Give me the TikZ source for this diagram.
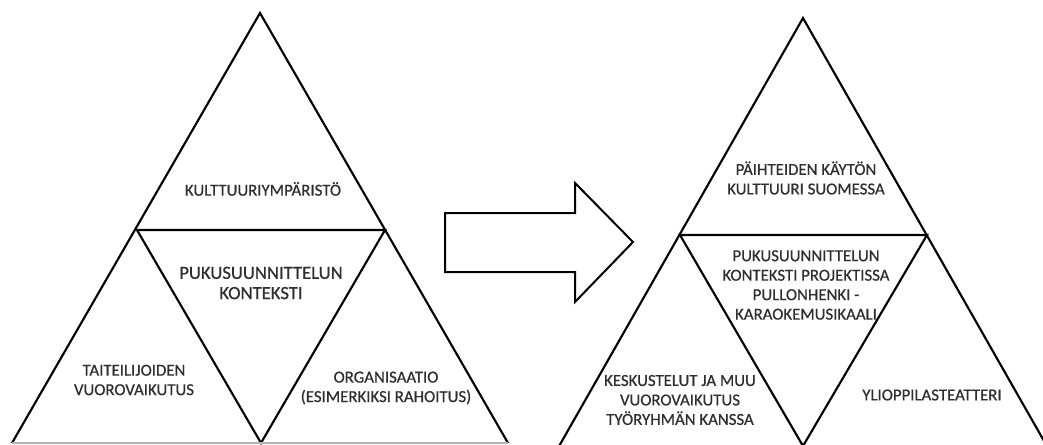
\documentclass[tikz,border=0pt]{standalone}
\usepackage{fontspec}
\setmainfont{Carlito}
\newfontfamily\lblfont{Carlito}[FakeBold=0.6]
\usetikzlibrary{positioning}
\definecolor{cink}{HTML}{2E2E2E}
\definecolor{cbase}{HTML}{B4B4B4}
\tikzset{
  every picture/.style={line width=1.6pt, line join=miter},
  lbl/.style={text=cink, align=center, inner sep=0pt, font=\lblfont\fontsize{12.6}{14.6}\selectfont},
  biglbl/.style={lbl, font=\lblfont\fontsize{14}{15.2}\selectfont},
  blockarrow/.style={draw=black, line width=1.5pt, fill=white},
}

\begin{document}
\begin{tikzpicture}[x=0.75pt, y=-0.75pt]
  \useasboundingbox (0,0) rectangle (1043,444);
  % left triangle
  \coordinate (ltop) at (260,13);
  \coordinate (lmidl) at (137,230);
  \coordinate (lmidr) at (385,230);
  \coordinate (lbotl) at (12,443);
  \coordinate (lbotm) at (261,443);
  \coordinate (lbotr) at (508,443);
  \draw (lbotl) -- (ltop) -- (lbotr);
  \draw (lmidl) -- (lmidr) -- (lbotm) -- cycle;
  \draw[cbase, line width=1pt] (lbotl) -- (lbotr);
  \node[lbl] (kulttuuri) at (263,189) {KULTTUURIYMPÄRISTÖ};
  \node[biglbl] (konteksti) at (261,283) {PUKUSUUNNITTELUN\\KONTEKSTI};
  \node[lbl] (taiteilijat) at (134,380) {TAITEILIJOIDEN\\VUOROVAIKUTUS};
  \node[lbl] (organisaatio) at (386,388) {ORGANISAATIO\\(ESIMERKIKSI RAHOITUS)};
  % arrow
  \draw[blockarrow] (445,213) -- (575,213) -- (575,183) -- (633,242)
    -- (575,302) -- (575,272) -- (445,272) -- cycle;
  % right triangle
  \coordinate (rtop) at (803,18);
  \coordinate (rmidl) at (680,235);
  \coordinate (rmidr) at (927,235);
  \coordinate (rbotl) at (558,448);
  \coordinate (rbotm) at (803,446);
  \coordinate (rbotr) at (1048,448);
  \draw (rbotl) -- (rtop) -- (rbotr);
  \draw (rmidl) -- (rmidr) -- (rbotm) -- cycle;
  \node[lbl] (paihteet) at (806,178) {PÄIHTEIDEN KÄYTÖN\\KULTTUURI SUOMESSA};
  \node[lbl] (projekti) at (806,285) {PUKUSUUNNITTELUN\\KONTEKSTI PROJEKTISSA\\PULLONHENKI -\\KARAOKEMUSIKAALI};
  \node[lbl] (tyoryhma) at (680,400) {KESKUSTELUT JA MUU\\VUOROVAIKUTUS\\TYÖRYHMÄN KANSSA};
  \node[lbl] (ylioppilas) at (932,395) {YLIOPPILASTEATTERI};
\end{tikzpicture}
\end{document}
